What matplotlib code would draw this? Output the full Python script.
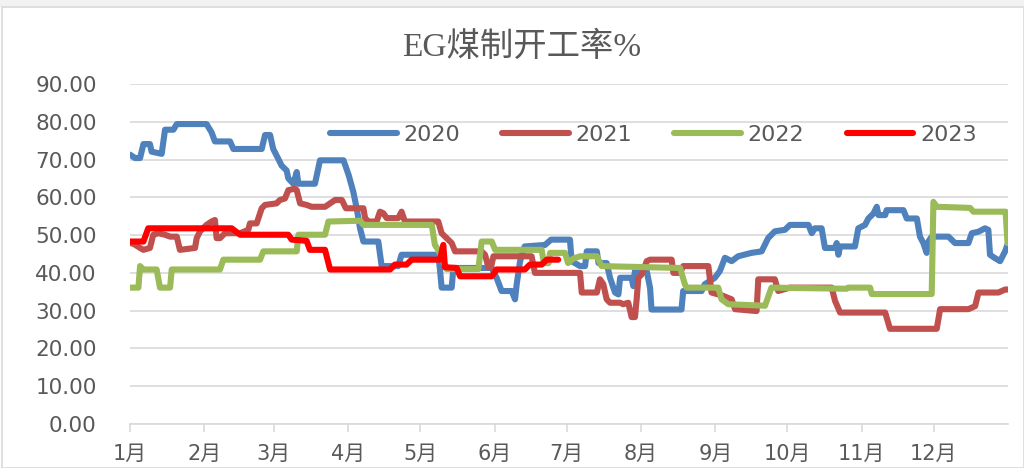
import matplotlib
matplotlib.use("Agg")
import matplotlib.pyplot as plt
from matplotlib.patches import Rectangle

# ---- data (day of year, value) ----
days_2020 = [0, 2.1, 4.2, 5.6, 8.3, 9.0, 13.2, 14.6, 18.1, 19.5, 31.9, 34.0, 35.4, 41.7, 43.1, 54.9,
             56.3, 58.4, 59.7, 61.8, 63.2, 65.3, 66.0, 68.1, 69.5, 70.2, 77.1, 79.2, 89.0, 91.2,
             93.1, 94.5, 95.9, 97.3, 103.5, 104.9, 111.8, 113.2, 128.5, 129.2, 129.9, 134.1, 134.8,
             150.8, 152.8, 154.9, 159.1, 160.5, 161.2, 162.6, 164.5, 173.0, 175.5, 183.4, 184.1,
             187.6, 189.7, 190.4, 194.6, 195.3, 198.7, 200.1, 202.2, 203.6, 204.3, 209.1, 209.8,
             210.5, 215.4, 216.8, 217.4, 229.9, 230.6, 238.3, 239.6, 243.8, 245.9, 248.0, 250.8,
             253.5, 259.1, 263.3, 266.0, 268.8, 273.0, 275.1, 282.8, 284.2, 285.5, 288.3, 289.7,
             293.9, 294.6, 295.3, 296.0, 302.2, 303.6, 306.4, 307.8, 309.9, 311.3, 312.0, 314.8,
             315.4, 322.4, 323.8, 328.0, 329.3, 330.7, 332.1, 332.8, 334.2, 341.2, 343.9, 349.5,
             350.9, 353.7, 356.4, 357.8, 358.5, 360.6, 362.7, 364.8, 365.8]
vals_2020 = [71.3, 70.4, 70.4, 74.1, 74.1, 72.1, 71.5, 77.9, 77.9, 79.4, 79.4, 77.2, 74.8, 74.8, 72.8, 72.8,
             76.5, 76.5, 72.8, 70.2, 68.4, 67.1, 65.0, 63.6, 66.7, 63.6, 63.6, 69.8, 69.8, 65.8,
             61.4, 57.1, 51.8, 48.3, 48.3, 41.8, 41.8, 44.8, 44.8, 41.0, 36.1, 36.1, 41.3,
             41.3, 38.7, 35.2, 35.2, 33.0, 37.0, 43.1, 47.0, 47.4, 48.8, 48.8, 43.1,
             41.8, 41.8, 45.7, 45.7, 42.6, 42.6, 38.7, 34.8, 34.3, 38.7, 38.7, 36.5,
             40.5, 40.5, 36.0, 30.3, 30.3, 35.2, 35.2, 37.0, 38.7, 40.5, 44.0, 43.1,
             44.4, 45.3, 45.7, 49.2, 51.0, 51.4, 52.7, 52.7, 50.5, 51.8, 51.8, 46.6,
             46.6, 47.9, 44.8, 47.0, 47.0, 51.8, 52.7, 54.4, 55.7, 57.5, 55.3, 55.3,
             56.6, 56.6, 54.4, 54.4, 49.6, 47.9, 45.3, 48.3, 49.6, 49.6, 47.9, 47.9,
             50.5, 50.9, 51.8, 51.4, 44.8, 43.9, 43.1, 45.7, 47.5]

days_2021 = [0, 2.0, 4.2, 5.6, 8.3, 9.7, 11.8, 14.6, 16.7, 19.5, 20.8, 27.1, 27.8, 29.2, 31.9, 34.0,
             35.4, 36.1, 37.5, 39.6, 45.9, 49.3, 50.0, 52.8, 54.9, 56.3, 61.1, 62.5, 64.6, 66.0,
             68.8, 69.5, 70.9, 73.6, 75.7, 81.3, 83.4, 85.5, 88.3, 90.0, 97.3, 98.0, 99.4, 102.8,
             104.2, 105.6, 107.0, 111.8, 113.2, 114.6, 128.5, 129.9, 132.0, 134.1, 135.5, 146.6,
             148.0, 149.4, 150.5, 151.5, 167.4, 168.8, 187.6, 188.3, 194.6, 195.9, 197.3, 198.7,
             200.1, 204.3, 205.6, 207.7, 209.1, 210.5, 211.2, 211.9, 213.3, 215.4, 216.8, 225.8,
             226.5, 229.3, 230.6, 241.1, 242.4, 245.2, 247.3, 250.8, 252.2, 261.2, 261.9, 268.8,
             270.2, 275.1, 292.5, 293.9, 296.0, 314.8, 316.8, 336.3, 337.7, 349.5, 352.3, 353.7,
             362.0, 364.8, 365.8]
vals_2021 = [48.0, 47.5, 46.6, 46.1, 46.6, 50.1, 50.5, 50.1, 49.6, 49.6, 46.1, 46.6, 49.2, 51.0, 52.7, 53.6,
             54.0, 49.2, 49.2, 50.5, 50.5, 51.4, 53.1, 53.1, 57.1, 58.0, 58.4, 59.3, 59.7, 61.9,
             62.3, 61.9, 58.4, 58.0, 57.5, 57.5, 58.4, 59.3, 59.3, 57.1, 57.1, 54.5, 53.6, 53.6,
             56.2, 55.8, 54.5, 54.5, 56.2, 53.6, 53.6, 50.5, 49.2, 47.9, 45.7, 45.7,
             44.8, 41.5, 41.5, 44.4, 44.4, 40.0, 40.0, 34.8, 34.8, 38.3, 37.0, 33.0,
             32.1, 32.1, 31.7, 32.1, 28.3, 28.3, 33.0, 38.7, 39.6, 43.1, 43.5, 43.5,
             40.0, 40.0, 41.8, 41.8, 34.8, 34.3, 33.9, 33.0, 30.4, 29.9, 38.3, 38.3,
             35.2, 36.1, 36.1, 32.6, 29.5, 29.5, 25.2, 25.2, 30.4, 30.4, 31.2, 34.8,
             34.8, 35.6, 35.6]

days_2022 = [0, 3.5, 4.2, 5.6, 11.1, 12.5, 16.7, 17.4, 37.5, 38.9, 54.2, 55.6, 69.5, 70.2, 81.3, 82.7,
             95.9, 97.3, 125.8, 127.1, 128.5, 132.0, 145.2, 146.6, 150.8, 152.2, 171.6, 172.5,
             174.5, 175.1, 181.3, 182.6, 184.8, 187.6, 194.6, 196.6, 229.3, 231.3, 232.0, 245.2,
             246.6, 249.4, 264.7, 267.4, 298.7, 299.4, 308.5, 309.2, 334.2, 334.9, 336.3, 350.2,
             351.6, 365.0, 365.8]
vals_2022 = [36.1, 36.1, 41.8, 40.9, 40.9, 36.1, 36.1, 40.9, 40.9, 43.5, 43.5, 45.7, 45.7, 50.1, 50.1, 53.6,
             53.8, 52.7, 52.7, 47.4, 46.1, 41.0, 41.0, 48.3, 48.3, 46.1, 46.1, 42.6,
             42.6, 45.3, 45.3, 42.6, 43.8, 44.4, 44.4, 41.8, 41.3, 37.0, 36.1, 36.1,
             33.0, 31.7, 31.3, 36.1, 35.8, 36.1, 36.1, 34.4, 34.4, 58.8, 57.5, 57.2,
             56.2, 56.2, 47.9]

days_2023 = [0, 5.6, 7.6, 42.4, 45.9, 66.0, 67.4, 73.6, 75.0, 81.3, 83.4, 108.4, 110.4, 115.3, 117.4,
             129.2, 130.6, 131.3, 136.2, 137.6, 150.8, 152.8, 164.6, 166.7, 171.6, 173.7, 178.5]
vals_2023 = [48.3, 48.3, 51.8, 51.8, 50.1, 50.1, 48.8, 48.5, 46.1, 46.1, 40.9, 40.9, 42.2, 42.2, 43.5,
             43.5, 47.4, 41.5, 41.3, 39.1, 39.1, 40.9, 40.9, 42.2, 42.2, 43.5, 43.5]

month_starts = [0, 31, 60, 91, 121, 152, 182, 213, 244, 274, 305, 335]
month_labels = ["1月", "2月", "3月", "4月", "5月", "6月", "7月", "8月", "9月", "10月", "11月", "12月"]
series_names = ["2020", "2021", "2022", "2023"]
colors = ["#4F81BD", "#C0504D", "#9BBB59", "#FF0000"]

TXT = "#595959"
GRID = "#D9D9D9"

fig = plt.figure(figsize=(10.24, 4.68), dpi=100)
fig.patch.set_facecolor("white")
# outer frame
fig.add_artist(Rectangle((0, 1 - 7 / 468), 1, 7 / 468, transform=fig.transFigure,
                         facecolor="#F2F2F2", edgecolor="none"))
fig.add_artist(Rectangle((2 / 1024, 0), 1 - 2 / 1024, 1 - 7 / 468, transform=fig.transFigure,
                         facecolor="none", edgecolor=GRID, linewidth=1.2))

ax = fig.add_axes([130 / 1024, 44 / 468, 878 / 1024, 340 / 468])

all_days = [days_2020, days_2021, days_2022, days_2023]
all_vals = [vals_2020, vals_2021, vals_2022, vals_2023]
for d, v, c, n in zip(all_days, all_vals, colors, series_names):
    ax.plot(d, v, color=c, linewidth=4.4, solid_joinstyle="round", solid_capstyle="round", label=n)

ax.set_xlim(0, 366)
ax.set_ylim(0, 90)
ax.set_yticks(range(0, 91, 10))
ax.set_yticklabels([f"{t:.2f}" for t in range(0, 91, 10)])
ax.set_xticks(month_starts)
ax.set_xticklabels(month_labels, family=["DejaVu Sans", "Noto Sans CJK SC"])
ax.grid(axis="y", color=GRID, linewidth=1.2)
ax.set_axisbelow(True)
for s in ["left", "right", "top"]:
    ax.spines[s].set_visible(False)
ax.spines["bottom"].set_color(GRID)
ax.spines["bottom"].set_linewidth(1.2)
ax.tick_params(axis="y", length=0, pad=24, labelsize=15.5, labelcolor=TXT)
ax.tick_params(axis="x", length=6, width=1.2, color=GRID, direction="out", pad=8,
               labelsize=15, labelcolor=TXT)

leg = ax.legend(ncol=4, loc="center", bbox_to_anchor=(0.596, 0.85), frameon=False,
                handlelength=3.0, handletextpad=0.3, columnspacing=1.9,
                prop={"family": "DejaVu Sans", "size": 16})
for t in leg.get_texts():
    t.set_color(TXT)

fig.text(0.509, 1 - 47 / 468, "EG煤制开工率%", ha="center", va="center",
         fontsize=24, color=TXT, family=["Liberation Serif", "Noto Sans CJK SC"])

fig.savefig("out.png", dpi=100)
